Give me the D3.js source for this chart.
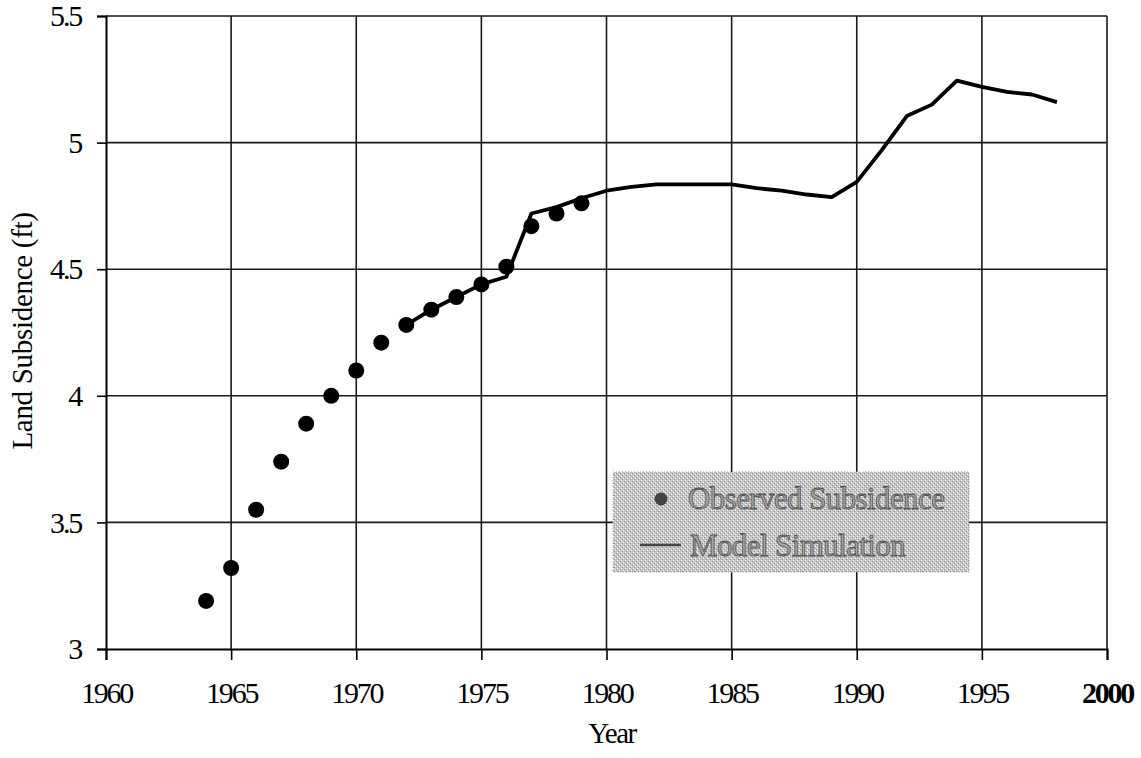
<!DOCTYPE html>
<html>
<head>
<meta charset="utf-8">
<script src="https://cdn.jsdelivr.net/npm/d3@7"></script>
<style>
  body { margin: 0; background: #fff; }
  text { font-family: "Liberation Serif", "DejaVu Serif", serif; }
</style>
</head>
<body>
<div id="chart"></div>
<script>
// observed subsidence (dots)
var obsYears = [1964, 1965, 1966, 1967, 1968, 1969, 1970, 1971, 1972, 1973, 1974, 1975, 1976, 1977, 1978, 1979];
var obsValues = [3.19, 3.32, 3.55, 3.74, 3.89, 4.0, 4.1, 4.21, 4.28, 4.34, 4.39, 4.44, 4.51, 4.67, 4.72, 4.76];

// model simulation (line)
var simYears = [1972, 1973, 1974, 1975, 1976, 1977, 1978, 1979, 1980, 1981, 1982, 1983, 1984, 1985,
                1986, 1987, 1988, 1989, 1990, 1991, 1992, 1993, 1994, 1995, 1996, 1997, 1998];
var simValues = [4.28, 4.34, 4.39, 4.44, 4.47, 4.72, 4.745, 4.78, 4.81, 4.825, 4.835, 4.835, 4.835, 4.835,
                 4.82, 4.81, 4.795, 4.785, 4.845, 4.97, 5.105, 5.15, 5.245, 5.22, 5.2, 5.19, 5.16];

var xTicks = [1960, 1965, 1970, 1975, 1980, 1985, 1990, 1995, 2000];
var yTicks = [3, 3.5, 4, 4.5, 5, 5.5];
var legendLabels = ["Observed Subsidence", "Model Simulation"];

var width = 1141, height = 758;
var margin = {left: 106, right: 34, top: 16, bottom: 109};

var svg = d3.select("#chart").append("svg")
    .attr("width", width)
    .attr("height", height);

// dithered fill for the legend box
var pat = svg.append("defs").append("pattern")
    .attr("id", "dither")
    .attr("width", 4).attr("height", 4)
    .attr("patternUnits", "userSpaceOnUse");
pat.append("rect").attr("width", 4).attr("height", 4).attr("fill", "#c6c6c6");
pat.append("rect").attr("x", 0).attr("y", 0).attr("width", 1).attr("height", 1).attr("fill", "#fff");
pat.append("rect").attr("x", 2).attr("y", 2).attr("width", 1).attr("height", 1).attr("fill", "#fff");
pat.append("rect").attr("x", 1).attr("y", 3).attr("width", 1).attr("height", 1).attr("fill", "#8c8c8c");
pat.append("rect").attr("x", 3).attr("y", 1).attr("width", 1).attr("height", 1).attr("fill", "#8c8c8c");

var x = d3.scaleLinear().domain([1960, 2000]).range([margin.left, width - margin.right]);
var y = d3.scaleLinear().domain([3, 5.5]).range([height - margin.bottom, margin.top]);

// grid
svg.append("g")
    .selectAll("line.vg")
    .data(xTicks.slice(1)).enter()
    .append("line")
    .attr("x1", function(d) { return x(d); })
    .attr("x2", function(d) { return x(d); })
    .attr("y1", y(5.5))
    .attr("y2", y(3))
    .attr("stroke", "#1a1a1a")
    .attr("stroke-width", 1.6);

svg.append("g")
    .selectAll("line.hg")
    .data(yTicks.slice(1)).enter()
    .append("line")
    .attr("x1", x(1960))
    .attr("x2", x(2000))
    .attr("y1", function(d) { return y(d); })
    .attr("y2", function(d) { return y(d); })
    .attr("stroke", "#1a1a1a")
    .attr("stroke-width", 1.6);

// axes
var xAxis = svg.append("g")
    .attr("transform", "translate(0," + y(3) + ")")
    .call(d3.axisBottom(x).tickValues(xTicks).tickSize(11).tickPadding(22).tickFormat(d3.format("d")));

var yAxis = svg.append("g")
    .attr("transform", "translate(" + x(1960) + ",0)")
    .call(d3.axisLeft(y).tickValues(yTicks).tickSize(9).tickPadding(16).tickFormat(function(d) { return d; }));

[xAxis, yAxis].forEach(function(a) {
    a.select(".domain").attr("stroke", "#000").attr("stroke-width", 2);
    a.selectAll(".tick line").attr("stroke", "#000").attr("stroke-width", 1.6);
    a.selectAll(".tick text")
        .attr("fill", "#000")
        .style("font-family", "'Liberation Serif', serif")
        .style("font-size", "30px")
        .style("letter-spacing", "-2.2px");
});
xAxis.selectAll(".tick text").filter(function(d) { return d === 2000; }).style("font-weight", "bold");

// axis titles
svg.append("text")
    .attr("x", 612)
    .attr("y", 743)
    .attr("text-anchor", "middle")
    .style("font-size", "29px")
    .style("letter-spacing", "-1.5px")
    .text("Year");

svg.append("text")
    .attr("transform", "translate(32,331)rotate(-90)")
    .attr("text-anchor", "middle")
    .style("font-size", "29px")
    .style("letter-spacing", "-0.3px")
    .text("Land Subsidence (ft)");

// model line
var line = d3.line()
    .x(function(d) { return x(d[0]); })
    .y(function(d) { return y(d[1]); });

svg.append("path")
    .datum(d3.zip(simYears, simValues))
    .attr("d", line)
    .attr("fill", "none")
    .attr("stroke", "#000")
    .attr("stroke-width", 3.8)
    .attr("stroke-linejoin", "round");

// observed points
svg.append("g")
    .selectAll("circle")
    .data(d3.zip(obsYears, obsValues)).enter()
    .append("circle")
    .attr("cx", function(d) { return x(d[0]); })
    .attr("cy", function(d) { return y(d[1]); })
    .attr("r", 8)
    .attr("fill", "#000");

// legend
var lg = svg.append("g").attr("transform", "translate(613,472)");
lg.append("rect")
    .attr("width", 356)
    .attr("height", 100)
    .attr("fill", "url(#dither)")
    .attr("stroke", "#999")
    .attr("stroke-width", 1)
    .attr("stroke-dasharray", "1,2");

lg.append("circle")
    .attr("cx", 48).attr("cy", 27).attr("r", 6.5)
    .attr("fill", "#444");
lg.append("line")
    .attr("x1", 27).attr("x2", 68)
    .attr("y1", 73).attr("y2", 73)
    .attr("stroke", "#444").attr("stroke-width", 2.5);

lg.selectAll("text.lbl")
    .data(legendLabels).enter()
    .append("text")
    .attr("x", function(d, i) { return i === 0 ? 75 : 77; })
    .attr("y", function(d, i) { return 37 + i * 47; })
    .style("font-size", "31px")
    .style("letter-spacing", "-0.6px")
    .attr("fill", "#a8a8a8")
    .attr("stroke", "#505050")
    .attr("stroke-width", 0.8)
    .text(function(d) { return d; });
</script>
</body>
</html>
